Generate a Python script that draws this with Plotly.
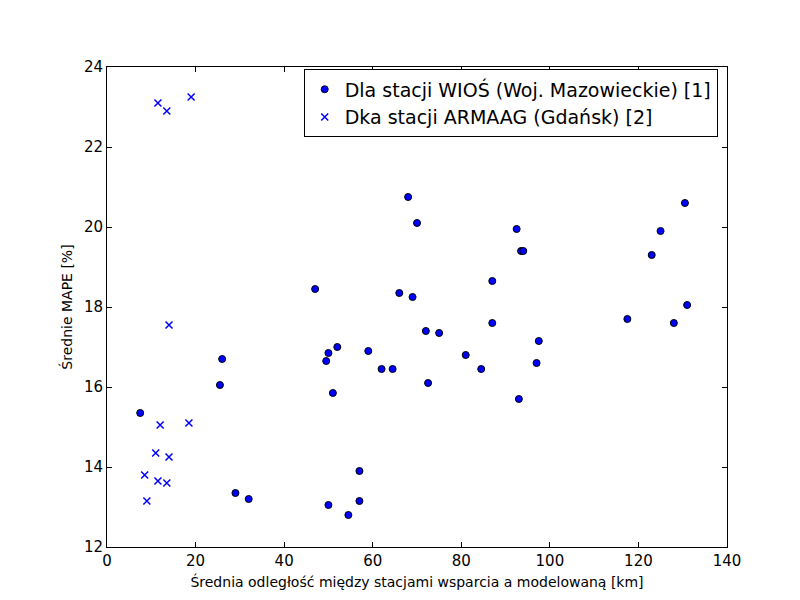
import plotly.graph_objects as go

# WIOŚ stations
wios_x = [7.5, 25.5, 26, 29, 32, 47, 49.5, 50, 50, 51, 52, 54.5, 57, 57, 59, 62, 64.5, 66, 68, 69,
          70, 72, 72.5, 75, 81, 84.5, 87, 87, 92.5, 93, 93.5, 94, 97, 97.5, 117.5, 123, 125, 128, 130.5, 131]
wios_y = [15.35, 16.05, 16.7, 13.35, 13.2, 18.45, 16.65, 16.85, 13.05, 15.85, 17.0, 12.8, 13.9, 13.15, 16.9, 16.45, 16.45, 18.35, 20.75, 18.25,
          20.1, 17.4, 16.1, 17.35, 16.8, 16.45, 18.65, 17.6, 19.95, 15.7, 19.4, 19.4, 16.6, 17.15, 17.7, 19.3, 19.9, 17.6, 20.6, 18.05]

# ARMAAG stations
arm_x = [11.5, 13.5, 19, 14, 12, 18.5, 11, 14, 8.5, 11.5, 13.5, 9]
arm_y = [23.1, 22.9, 23.25, 17.55, 15.05, 15.1, 14.35, 14.25, 13.8, 13.65, 13.6, 13.15]

fig = go.Figure()
fig.add_trace(go.Scatter(x=wios_x, y=wios_y, mode="markers",
                         name="Dla stacji WIOŚ (Woj. Mazowieckie) [1]",
                         marker=dict(color="blue", size=7, line=dict(color="black", width=1))))
fig.add_trace(go.Scatter(x=arm_x, y=arm_y, mode="markers",
                         name="Dka stacji ARMAAG (Gdańsk) [2]",
                         marker=dict(color="blue", size=7, symbol="x-thin", line=dict(color="blue", width=1.5))))

axis = dict(showgrid=False, zeroline=False, showline=True, linecolor="black", linewidth=1,
            mirror="ticks", ticks="inside", ticklen=5, tickcolor="black", automargin=False)
fig.update_layout(
    width=800, height=600, plot_bgcolor="white", paper_bgcolor="white",
    font=dict(family="DejaVu Sans", size=15, color="black"),
    margin=dict(l=99, r=81, t=59, b=61),
    xaxis=dict(axis, range=[0, 140], dtick=20,
               title=dict(text="Średnia odległość między stacjami wsparcia a modelowaną [km]",
                          standoff=8, font=dict(size=14))),
    yaxis=dict(axis, range=[12, 24], dtick=2,
               title=dict(text="Średnie MAPE [%]", standoff=8, font=dict(size=14))),
    legend=dict(x=0.985, y=0.995, xanchor="right", yanchor="top", bordercolor="black", borderwidth=1,
                font=dict(size=19), bgcolor="white"),
)
fig.write_html("out.html")
